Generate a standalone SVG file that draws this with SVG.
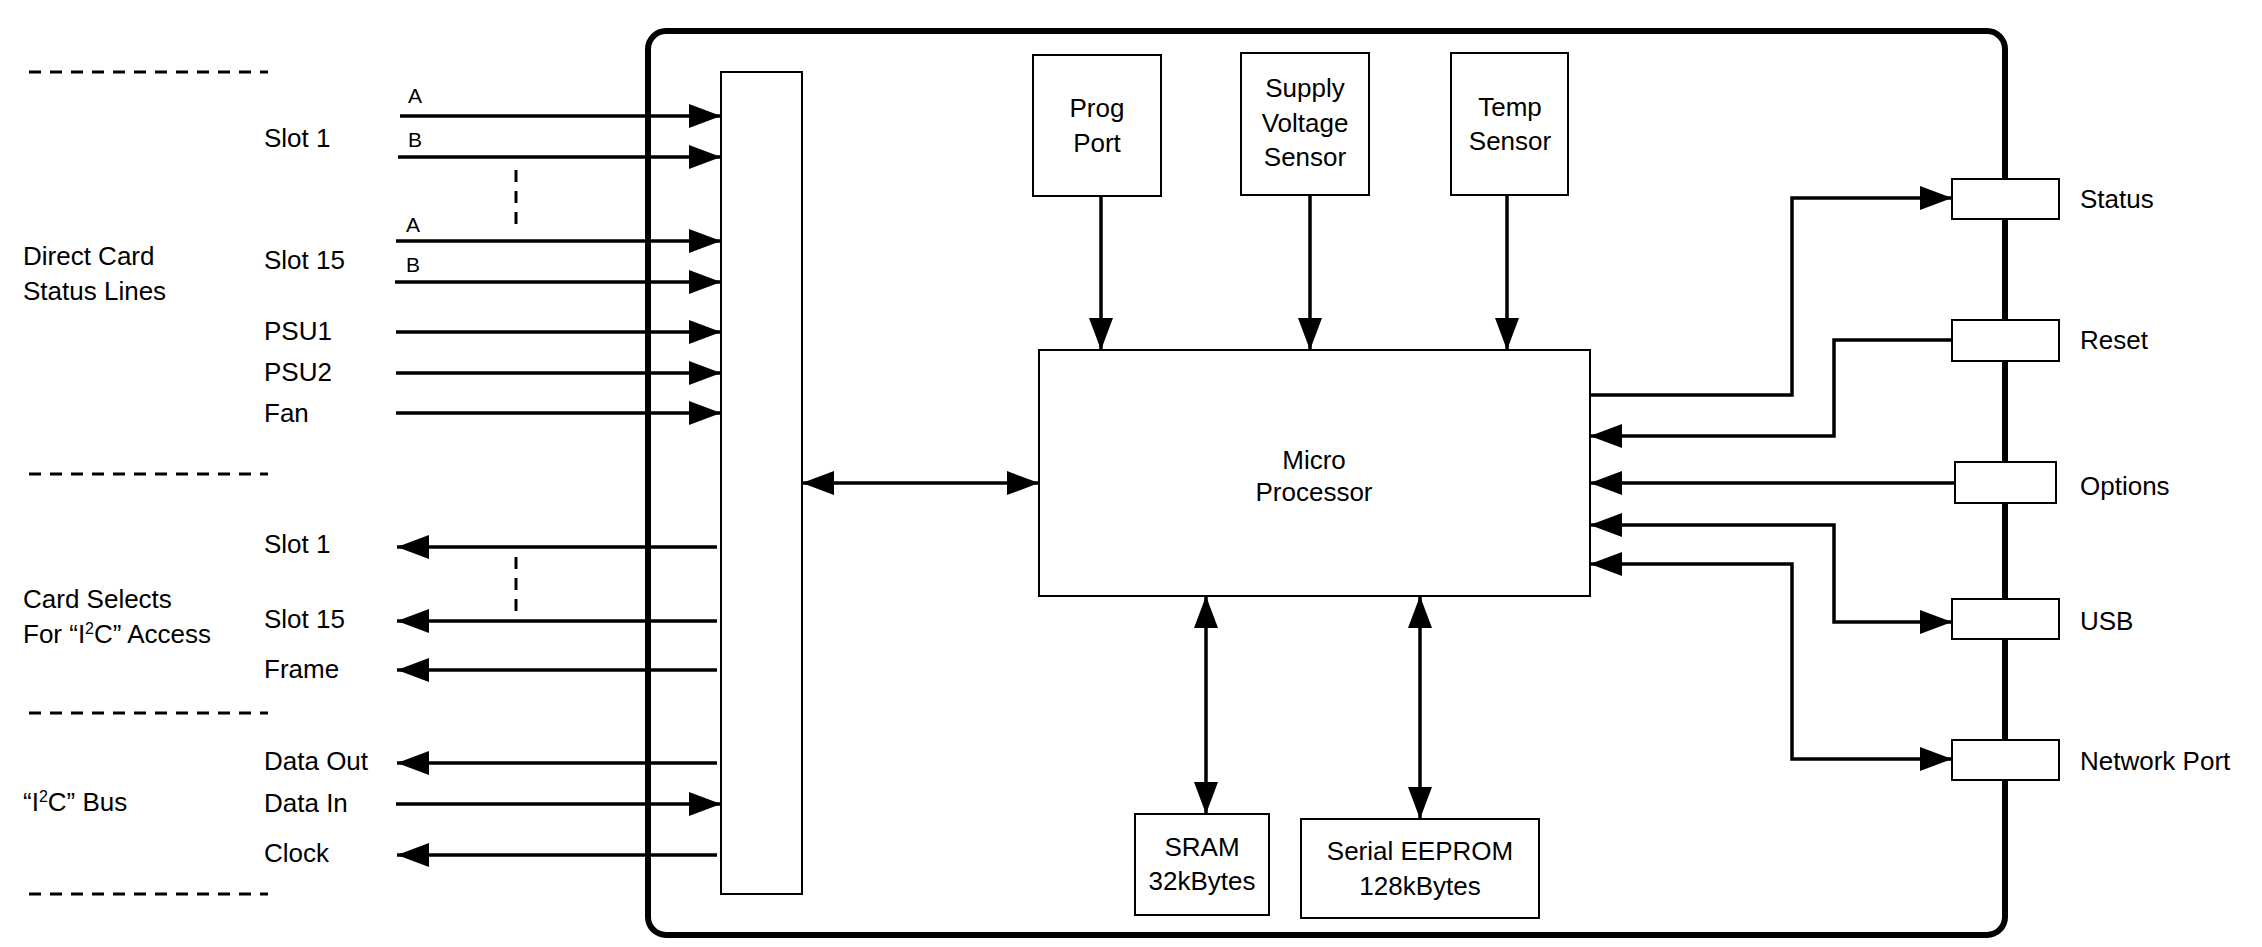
<svg xmlns="http://www.w3.org/2000/svg" width="2262" height="947" viewBox="0 0 2262 947">
<style>
text{font-family:"Liberation Sans",Arial,sans-serif;font-size:26px;fill:#000}
.s{font-size:21px}
.m{text-anchor:middle}
.box{fill:#fff;stroke:#000;stroke-width:2}
.ln{fill:none;stroke:#000;stroke-width:3.5}
.da{fill:none;stroke:#000;stroke-width:3;stroke-dasharray:12,9}
</style>
<defs>
<marker id="ah" markerUnits="userSpaceOnUse" markerWidth="32" markerHeight="24" refX="32" refY="12" orient="auto-start-reverse"><path d="M0,0L32,12L0,24z" fill="#000"/></marker>
</defs>
<rect x="648" y="31" width="1357" height="904" rx="18" fill="none" stroke="#000" stroke-width="6"/>
<g id="dashes">
<path class="da" d="M29,72H268M29,474H268M29,713H268M29,894H268"/>
<path class="da" d="M516,170V225M516,557V612"/>
</g>
<g id="labels-left">
<text x="23" y="265">Direct Card</text><text x="23" y="300">Status Lines</text>
<text x="23" y="608">Card Selects</text><text x="23" y="643">For “I<tspan dy="-9" font-size="16">2</tspan><tspan dy="9">C” Access</tspan></text>
<text x="23" y="811">“I<tspan dy="-9" font-size="16">2</tspan><tspan dy="9">C” Bus</tspan></text>
<text x="264" y="147">Slot 1</text><text x="264" y="269">Slot 15</text>
<text x="264" y="340">PSU1</text><text x="264" y="381">PSU2</text><text x="264" y="422">Fan</text>
<text x="264" y="553">Slot 1</text><text x="264" y="628">Slot 15</text><text x="264" y="678">Frame</text>
<text x="264" y="770">Data Out</text><text x="264" y="812">Data In</text><text x="264" y="862">Clock</text>
<text class="s" x="408" y="103">A</text><text class="s" x="408" y="147">B</text>
<text class="s" x="406" y="232">A</text><text class="s" x="406" y="272">B</text>
</g>
<g id="panel"><rect class="box" x="721" y="72" width="81" height="822"/></g>
<g id="prog"><rect class="box" x="1033" y="55" width="128" height="141"/><text class="m" x="1097" y="117">Prog</text><text class="m" x="1097" y="152">Port</text></g>
<g id="supply"><rect class="box" x="1241" y="53" width="128" height="142"/><text class="m" x="1305" y="97">Supply</text><text class="m" x="1305" y="132">Voltage</text><text class="m" x="1305" y="166">Sensor</text></g>
<g id="temp"><rect class="box" x="1451" y="53" width="117" height="142"/><text class="m" x="1510" y="116">Temp</text><text class="m" x="1510" y="150">Sensor</text></g>
<g id="micro"><rect class="box" x="1039" y="350" width="551" height="246"/><text class="m" x="1314" y="469">Micro</text><text class="m" x="1314" y="501">Processor</text></g>
<g id="sram"><rect class="box" x="1135" y="814" width="134" height="101"/><text class="m" x="1202" y="856">SRAM</text><text class="m" x="1202" y="890">32kBytes</text></g>
<g id="eeprom"><rect class="box" x="1301" y="819" width="238" height="99"/><text class="m" x="1420" y="860">Serial EEPROM</text><text class="m" x="1420" y="895">128kBytes</text></g>
<g id="status"><rect class="box" x="1952" y="179" width="107" height="40"/><text x="2080" y="208">Status</text></g>
<g id="reset"><rect class="box" x="1952" y="320" width="107" height="41"/><text x="2080" y="349">Reset</text></g>
<g id="options"><rect class="box" x="1955" y="462" width="101" height="41"/><text x="2080" y="495">Options</text></g>
<g id="usb"><rect class="box" x="1952" y="599" width="107" height="40"/><text x="2080" y="630">USB</text></g>
<g id="network"><rect class="box" x="1952" y="740" width="107" height="40"/><text x="2080" y="770">Network Port</text></g>
<g id="connectors" class="ln" marker-end="url(#ah)">
<path class="ln" d="M400,116H721"/><path class="ln" d="M398,157H721"/>
<path class="ln" d="M396,241H721"/><path class="ln" d="M395,282H721"/>
<path class="ln" d="M396,332H721"/><path class="ln" d="M396,373H721"/><path class="ln" d="M396,413H721"/>
<path class="ln" d="M717,547H397"/><path class="ln" d="M717,621H397"/><path class="ln" d="M717,670H397"/>
<path class="ln" d="M717,763H397"/><path class="ln" d="M396,804H721"/><path class="ln" d="M717,855H397"/>
<path class="ln" d="M1101,196V350"/><path class="ln" d="M1310,195V350"/><path class="ln" d="M1507,195V350"/>
<path class="ln" d="M802,483H1039" marker-start="url(#ah)"/>
<path class="ln" d="M1206,596V814" marker-start="url(#ah)"/>
<path class="ln" d="M1420,596V819" marker-start="url(#ah)"/>
<path class="ln" d="M1590,395H1792V198H1952"/>
<path class="ln" d="M1952,340H1834V436H1590"/>
<path class="ln" d="M1955,483H1590"/>
<path class="ln" d="M1590,525H1834V622H1952" marker-start="url(#ah)"/>
<path class="ln" d="M1590,564H1792V759H1952" marker-start="url(#ah)"/>
</g>
</svg>
